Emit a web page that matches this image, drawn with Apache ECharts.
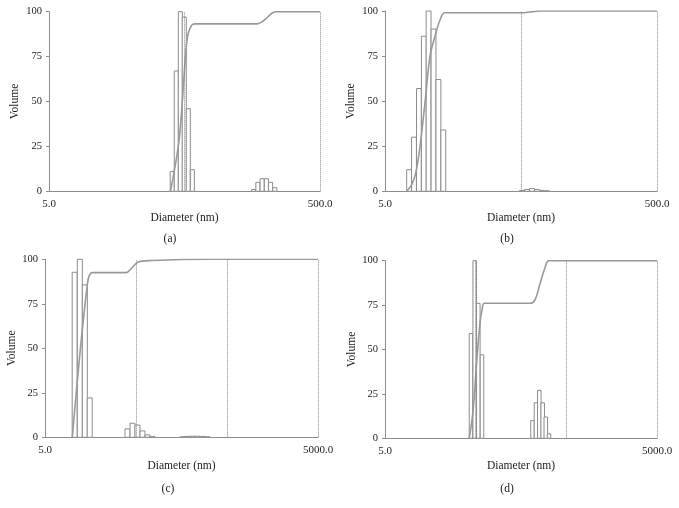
<!DOCTYPE html>
<html>
<head>
<meta charset="utf-8">
<script src="https://cdn.jsdelivr.net/npm/echarts@6/dist/echarts.min.js"></script>
<style>
html,body{margin:0;padding:0;background:#fff;}
#chart{width:679px;height:508px;}
</style>
</head>
<body>
<div id="chart"></div>
<script>
// ---- Data (diameter in nm, volume in %) ----
// Panel (a)
const diaA = [40.6, 43.5, 46.6, 49.8, 53.3, 57.1, 162, 174, 187, 201, 216, 232];
const volA = [11, 67, 100, 97, 46, 12, 1, 5, 7, 7, 5, 2];
const cumDiaA = [39.4, 45.0, 47.7, 51.3, 53.3, 56.5, 59.8, 170.5, 185, 202, 222, 239.6, 500];
const cumVolA = [0, 25, 45.5, 79, 88, 92.5, 93.2, 93.2, 94.2, 96.5, 99.3, 100, 100];
// Panel (b)
const diaB = [7.52, 8.17, 8.88, 9.65, 10.46, 11.37, 12.35, 13.42, 50.8, 55.3, 60.2, 65.6, 71.3, 77.6];
const volB = [12, 30, 57, 86, 100, 90, 62, 34, 0.5, 1, 1.5, 1, 0.5, 0.3];
const cumDiaB = [7.22, 7.86, 8.41, 9.05, 9.90, 10.71, 11.66, 12.69, 13.80, 50.5, 60, 68.9, 500];
const cumVolB = [0, 3.7, 10, 25, 51, 75, 86, 95, 99, 99, 99.6, 100, 100];
// Panel (c)
const diaC = [10.6, 12.07, 13.7, 15.5, 40.3, 45.8, 51.9, 58.9, 66.9, 75.9, 162, 184, 209, 237, 269, 305];
const volC = [92.7, 100, 85.6, 22.1, 4.7, 7.9, 6.9, 3.6, 1.3, 0.4, 0.3, 0.5, 0.6, 0.6, 0.5, 0.3];
const cumDiaC = [9.98, 14.58, 16.55, 38.8, 44.8, 53.0, 74.3, 299, 5000];
const cumVolC = [0, 85.6, 92.5, 92.5, 95, 98.5, 99.3, 100, 100];
// Panel (d)
const diaD = [44.4, 48.8, 53.5, 58.7, 211.8, 231.4, 251.7, 274.4, 296.8, 321.9];
const volD = [59, 100, 76, 47, 10, 20, 27, 20, 12, 2.5];
const cumDiaD = [42.5, 46.7, 51.7, 55.8, 58.7, 62.6, 198.7, 225.6, 256.2, 290.9, 322, 5000];
const cumVolD = [0, 15, 45, 65, 72, 76, 76, 78, 87, 96, 100, 100];

// Axis ranges and reference lines
const xMin = [5, 5, 5, 5];
const xMax = [500, 500, 5000, 5000];
const refLines = [[50, 500], [50, 500], [50, 500, 5000], [50, 500, 5000]];
const binWidthLog = [0.030, 0.0358, 0.055, 0.039];
const yTicks = [0, 25, 50, 75, 100];
const captions = ['(a)', '(b)', '(c)', '(d)'];
const xTitle = 'Diameter (nm)';
const yTitle = 'Volume';

const panels = [
  {dia: diaA, vol: volA, cd: cumDiaA, cv: cumVolA},
  {dia: diaB, vol: volB, cd: cumDiaB, cv: cumVolB},
  {dia: diaC, vol: volC, cd: cumDiaC, cv: cumVolC},
  {dia: diaD, vol: volD, cd: cumDiaD, cv: cumVolD}
];

// ---- Layout ----
const grids = [
  {left: 49, top: 11.7, width: 271, height: 179.6},
  {left: 385, top: 11, width: 272, height: 180.3},
  {left: 45, top: 259.3, width: 273, height: 178},
  {left: 385, top: 260.7, width: 272, height: 177.6}
];
const yNameGap = [28, 28, 26, 26];
const xNameGap = [21, 21, 23, 22];
const captionPos = [[170, 239], [507, 239], [168, 489], [507, 489]];

const FONT = 'Liberation Serif';
const GREY = '#8c8c8c';

function fmtX(min, max) {
  return function (v) {
    if (Math.abs(v - min) / min < 0.01) return min.toFixed(1);
    if (Math.abs(v - max) / max < 0.01) return max.toFixed(1);
    return '';
  };
}

const option = {
  backgroundColor: '#fff',
  animation: false,
  grid: grids.map(g => Object.assign({containLabel: false}, g)),
  xAxis: grids.map((g, i) => ({
    gridIndex: i,
    type: 'log',
    logBase: 10,
    min: xMin[i],
    max: xMax[i],
    name: xTitle,
    nameLocation: 'middle',
    nameGap: xNameGap[i],
    nameTextStyle: {fontFamily: FONT, fontSize: 11.5, color: '#222'},
    axisLine: {show: true, lineStyle: {color: GREY, width: 1}},
    axisTick: {show: false},
    splitLine: {show: false},
    minorTick: {show: false},
    axisLabel: {
      interval: 0, showMinLabel: true, showMaxLabel: true,
      formatter: fmtX(xMin[i], xMax[i]),
      fontFamily: FONT, fontSize: 11, color: '#222', margin: 7
    }
  })),
  yAxis: grids.map((g, i) => ({
    gridIndex: i,
    type: 'value',
    min: yTicks[0],
    max: yTicks[yTicks.length - 1],
    interval: 25,
    name: yTitle,
    nameLocation: 'middle',
    nameGap: yNameGap[i],
    nameTextStyle: {fontFamily: FONT, fontSize: 11.5, color: '#222'},
    axisLine: {show: true, lineStyle: {color: GREY, width: 1}},
    axisTick: {show: true, length: 3, lineStyle: {color: GREY}},
    splitLine: {show: false},
    axisLabel: {fontFamily: FONT, fontSize: 10.5, color: '#222', margin: 7}
  })),
  graphic: captions.map((c, i) => ({
    type: 'text',
    x: captionPos[i][0],
    y: captionPos[i][1],
    style: {text: c, font: '11.5px "Liberation Serif"', fill: '#222', align: 'center', verticalAlign: 'middle'}
  })),
  series: []
};

panels.forEach((p, i) => {
  const w = binWidthLog[i];
  option.series.push({
    type: 'custom',
    xAxisIndex: i, yAxisIndex: i,
    z: 2,
    encode: {x: 0, y: 1},
    data: p.dia.map((d, k) => [d, p.vol[k]]),
    renderItem: function (params, api) {
      const d = api.value(0), h = api.value(1);
      const f = Math.pow(10, w / 2);
      const tl = api.coord([d / f, h]);
      const br = api.coord([d * f, 0]);
      return {
        type: 'rect',
        shape: {x: tl[0], y: tl[1], width: br[0] - tl[0], height: br[1] - tl[1]},
        style: {fill: '#fff', stroke: GREY, lineWidth: 1}
      };
    }
  });
  option.series.push({
    type: 'line',
    xAxisIndex: i, yAxisIndex: i,
    z: 3,
    smooth: 0.35,
    symbol: 'none',
    lineStyle: {color: '#999', width: 1.6},
    data: p.cd.map((d, k) => [d, p.cv[k]]),
    markLine: {
      silent: true,
      symbol: 'none',
      label: {show: false},
      lineStyle: {type: 'dotted', color: '#888', width: 1},
      data: refLines[i].map(v => ({xAxis: v}))
    }
  });
});

const chart = echarts.init(document.getElementById('chart'), null, {renderer: 'canvas'});
chart.setOption(option);
</script>
</body>
</html>
